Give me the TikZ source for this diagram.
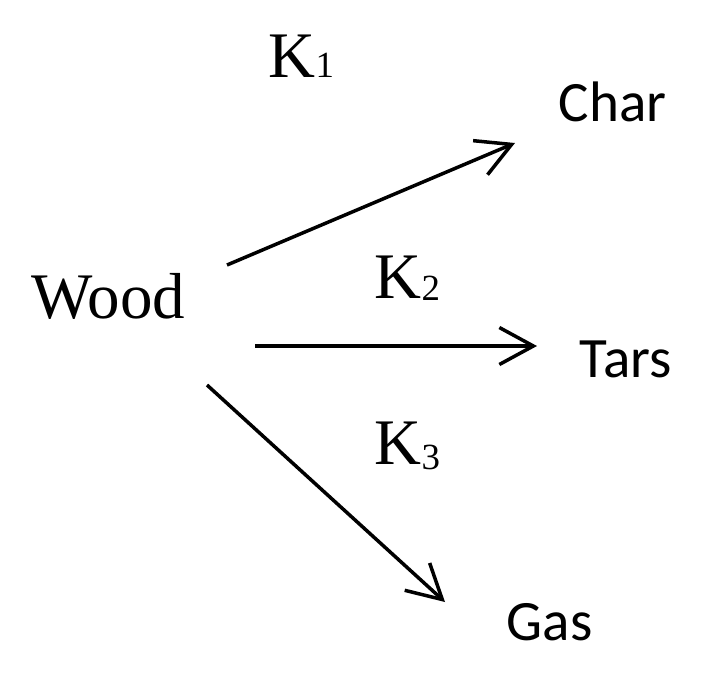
\documentclass[tikz,border=0pt]{standalone}
\usepackage{fontspec}
\setmainfont{Liberation Serif}
\newfontfamily\calib{Carlito}
\usetikzlibrary{arrows.meta}
\newcommand{\rate}[2]{K{\fontsize{21}{24}\selectfont\raisebox{#2}{#1}}}

\begin{document}
\begin{tikzpicture}[x=0.02cm, y=-0.02cm, line width=0.07cm,
  serif/.style={anchor=base west, inner sep=0, font=\fontsize{37}{40}\selectfont},
  sans/.style={anchor=base west, inner sep=0, font=\calib\fontsize{32.5}{36}\selectfont},
  rxn/.style={-{Straight Barb[length=0.68cm, width=0.74cm]}}]
\useasboundingbox (0,0) rectangle (715,680);
% species and rate constants
\node[serif] (wood) at (30,318) {Wood};
\node[sans] (char) at (557,121) {Char};
\node[sans] (tars) at (578,377) {Tars};
\node[sans] (gas) at (505,640) {Gas};
\node[serif] (k1) at (267,77) {\rate{1}{0pt}};
\node[serif] (k2) at (373,298) {\rate{2}{-0.04cm}};
\node[serif] (k3) at (373,464) {\rate{3}{-0.1cm}};
% arrow ends
\coordinate (w1) at (227,265); \coordinate (c1) at (515,143);
\coordinate (w2) at (255,346); \coordinate (c2) at (537,346);
\coordinate (w3) at (207,385); \coordinate (c3) at (445,602);
\foreach \i in {1,2,3}
  \draw[rxn] (w\i) -- (c\i);
\end{tikzpicture}
\end{document}
